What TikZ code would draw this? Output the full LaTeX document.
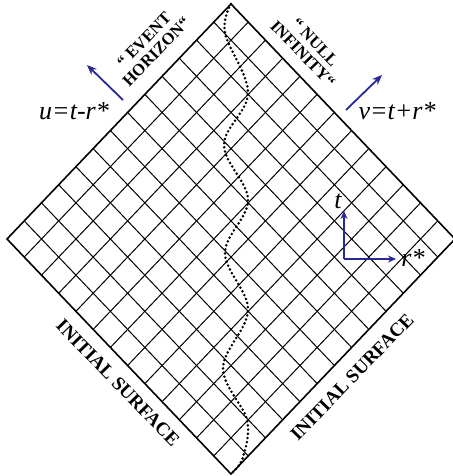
\documentclass[tikz,border=0pt]{standalone}
\usepackage{fontspec}
\setmainfont{Liberation Serif}
\usetikzlibrary{calc,arrows.meta}
\definecolor{arrowblue}{RGB}{40,40,150}
\tikzset{
  gridline/.style={line width=0.5pt},
  bluearrow/.style={arrowblue, line width=0.9pt, -{Stealth[length=5pt,width=4pt]}},
  axisarrow/.style={arrowblue, line width=0.8pt, -{Stealth[length=4pt,width=3.5pt]}},
  caplabel/.style={font=\bfseries\fontsize{8.3}{8.5}\selectfont, align=center, inner sep=0pt},
  surflabel/.style={font=\bfseries\fontsize{9.5}{10}\selectfont, inner sep=0pt},
  mathlabel/.style={font=\itshape\fontsize{13}{15}\selectfont, inner sep=0pt},
}
\begin{document}
\begin{tikzpicture}[x=0.5pt,y=-0.5pt]
\useasboundingbox (0,0) rectangle (453,476);

% Ecken des Diamanten
\coordinate (T) at (231,4);
\coordinate (L) at (7,239);
\coordinate (B) at (231,474);
\coordinate (R) at (455,239);

% Gitter (13 x 13 Zellen)
\foreach \i in {1,...,12}{
  \draw[gridline] ($(T)!\i/13!(L)$) -- ($(R)!\i/13!(B)$);
  \draw[gridline] ($(T)!\i/13!(R)$) -- ($(L)!\i/13!(B)$);
}
\draw[line width=0.8pt] (T) -- (L) -- (B) -- (R) -- cycle;

% gepunktete Weltlinie
\draw[line width=1.4pt, line cap=round, dash pattern=on 0pt off 2.1pt]
  plot[smooth, tension=0.6] coordinates {(231,4) (225,33) (248,93) (224,145) (248,200)
    (225,253) (248,310) (223,368) (247,420) (243,457) (233,472)};

% Beschriftung der Raender
\node[caplabel, rotate=46] (eh) at (150,46) {“ EVENT\\HORIZON“};
\node[caplabel, rotate=-46] (ni) at (309,48) {“ NULL\\INFINITY“};
\node[surflabel, rotate=-46] (isl) at (118,383) {INITIAL SURFACE};
\node[surflabel, rotate=46] (isr) at (352,377) {INITIAL SURFACE};

% Nullkoordinaten
\coordinate (ua) at (123,100);
\coordinate (ub) at (87,65);
\draw[bluearrow] (ua) -- (ub);
\node[mathlabel] (ulab) at (74,111) {u=t-r*};
\coordinate (va) at (346,110);
\coordinate (vb) at (382,75);
\draw[bluearrow] (va) -- (vb);
\node[mathlabel] (vlab) at (397,111) {v=t+r*};

% Achsen t und r*
\coordinate (o) at (344,259);
\coordinate (tt) at (344,211);
\coordinate (rr) at (396,259);
\draw[axisarrow] (o) -- (tt);
\draw[axisarrow] (o) -- (rr);
\node[mathlabel] (tlab) at (338,201) {t};
\node[mathlabel] (rlab) at (413,258) {r*};
\end{tikzpicture}
\end{document}
